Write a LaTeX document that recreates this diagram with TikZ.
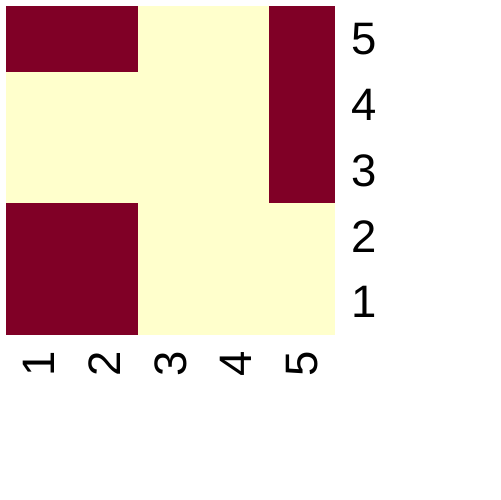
\documentclass[tikz,border=0pt]{standalone}
\usepackage{fontspec}
\setmainfont{Liberation Sans}
\definecolor{hot}{HTML}{800026}
\definecolor{cold}{HTML}{FFFFCC}
\begin{document}
\begin{tikzpicture}[x=0.02cm, y=0.02cm]
\useasboundingbox (0,0) rectangle (500,500);
\tikzset{lab/.style={inner sep=0pt, font=\fontsize{25.9pt}{30pt}\selectfont}}
% cells, row 1 at the bottom
\foreach \r/\vals in {1/{1,1,0,0,0}, 2/{1,1,0,0,0}, 3/{0,0,0,0,1}, 4/{0,0,0,0,1}, 5/{1,1,0,0,1}}{
  \foreach \v [count=\c] in \vals {
    \ifnum\v=1 \def\col{hot}\else\def\col{cold}\fi
    \fill[\col] ({6+(\c-1)*65.8},{165+(\r-1)*65.8}) rectangle ++(65.8,65.8);
  }
}
% row labels
\foreach \r in {1,...,5}
  \node[lab, anchor=west] (row\r) at (351,{165+(\r-0.5)*65.8}) {\r};
% column labels
\foreach \c in {1,...,5}
  \node[lab, anchor=east, rotate=90] (col\c) at ({6+(\c-0.5)*65.8},149) {\c};
\end{tikzpicture}
\end{document}
